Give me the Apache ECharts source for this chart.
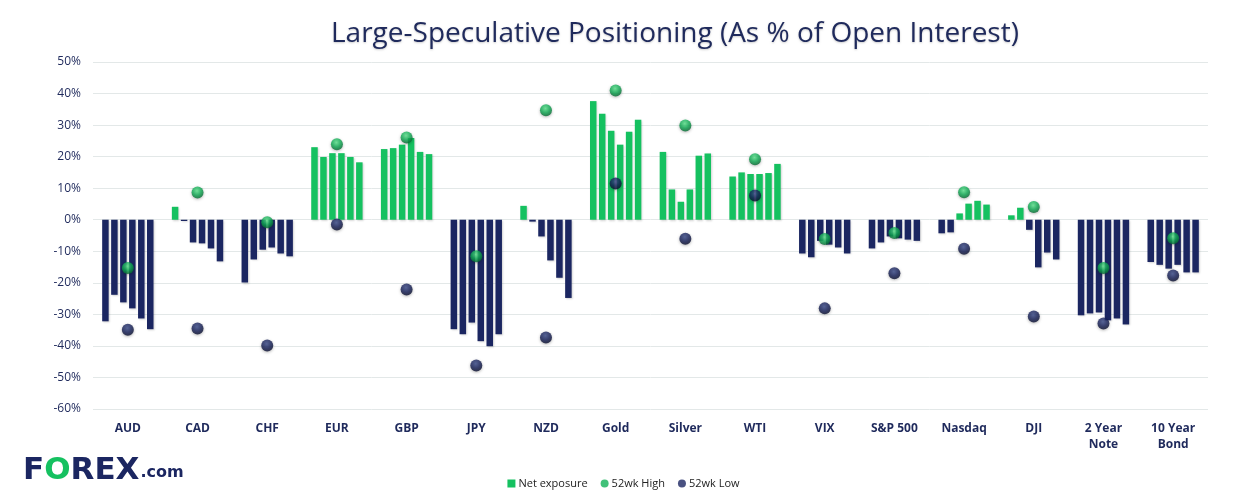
<!DOCTYPE html>
<html>
<head>
<meta charset="utf-8">
<script src="https://cdn.jsdelivr.net/npm/echarts@6/dist/echarts.min.js"></script>
<style>
html,body{margin:0;padding:0;background:#fff;}
#c{width:1247px;height:503px;}
</style>
</head>
<body>
<div id="c"></div>
<script>
const categories = ['AUD','CAD','CHF','EUR','GBP','JPY','NZD','Gold','Silver','WTI','VIX','S&P 500','Nasdaq','DJI','2 Year\nNote','10 Year\nBond'];
const week1 = [-32.2, 4.1, -19.9, 23.0, 22.4, -34.7, 4.4, 37.6, 21.5, 13.7, -10.7, -9.1, -4.3, 1.4, -30.3, -13.4];
const week2 = [-23.8, -0.4, -12.6, 19.9, 22.7, -36.3, -0.6, 33.6, 9.6, 15.0, -11.9, -7.2, -4.0, 3.8, -29.7, -14.3];
const week3 = [-26.2, -7.2, -9.5, 21.1, 23.8, -32.6, -5.3, 28.2, 5.7, 14.5, -6.7, -5.3, 2.0, -3.2, -29.4, -15.5];
const week4 = [-28.1, -7.5, -8.8, 21.1, 25.9, -38.5, -12.9, 23.8, 9.6, 14.5, -7.9, -5.9, 5.1, -15.1, -31.9, -14.3];
const week5 = [-31.3, -9.1, -10.7, 19.9, 21.5, -40.1, -18.4, 27.9, 20.3, 14.8, -8.8, -6.3, 6.0, -10.4, -31.3, -16.7];
const week6 = [-34.7, -13.2, -11.6, 18.2, 20.8, -36.3, -24.8, 31.7, 21.0, 17.7, -10.7, -6.7, 4.8, -12.6, -33.2, -16.7];
const high52 = [-15.3, 8.6, -0.8, 23.9, 26.1, -11.6, 34.7, 41.0, 29.9, 19.2, -6.1, -4.2, 8.7, 4.0, -15.3, -5.9];
const low52 = [-34.9, -34.5, -39.9, -1.5, -22.1, -46.2, -37.3, 11.5, -6.0, 7.7, -28.1, -17.0, -9.2, -30.7, -32.9, -17.7];
const yTicks = {min: -60, max: 50, interval: 10};

const GREEN = '#15c160';
const NAVY = '#1b2661';
const TEXT = '#1f2a5c';
const FONT = '"Open Sans", "Noto Sans", sans-serif';
const LOGO_FONT = '"DejaVu Sans", sans-serif';

const weeks = [week1, week2, week3, week4, week5, week6];
const barSeries = weeks.map(w => ({
  name: 'Net exposure',
  type: 'bar',
  barWidth: 6.5,
  barGap: '38%',
  color: GREEN,
  z: 2,
  itemStyle: {shadowColor: 'rgba(0,0,0,0.18)', shadowBlur: 2, shadowOffsetX: 1, shadowOffsetY: 1},
  data: w.map(v => ({value: v, itemStyle: {color: v >= 0 ? GREEN : NAVY}}))
}));

function ball(light, base, dark) {
  return new echarts.graphic.RadialGradient(0.45, 0.35, 0.65, [
    {offset: 0, color: light}, {offset: 0.55, color: base}, {offset: 1, color: dark}
  ]);
}

const chart = echarts.init(document.getElementById('c'), null, {renderer: 'canvas'});
chart.setOption({
  animation: false,
  backgroundColor: '#ffffff',
  title: {
    text: 'Large-Speculative Positioning (As % of Open Interest)',
    left: 326, top: 15,
    textStyle: {fontFamily: FONT, fontSize: 28, fontWeight: 'normal', color: TEXT,
      textShadowColor: 'rgba(0,0,0,0.2)', textShadowBlur: 2, textShadowOffsetY: 1}
  },
  legend: {
    bottom: 9, left: 'center',
    itemWidth: 8, itemHeight: 8, itemGap: 13,
    textStyle: {fontFamily: FONT, fontSize: 11, color: '#222', padding: [0, 0, 0, -2]},
    data: [
      {name: 'Net exposure', icon: 'rect', itemStyle: {color: GREEN}},
      {name: '52wk High', icon: 'circle', itemStyle: {color: '#12b257'}},
      {name: '52wk Low', icon: 'circle', itemStyle: {color: NAVY}}
    ]
  },
  grid: {left: 93, right: 39, top: 62, bottom: 94},
  xAxis: {
    type: 'category',
    data: categories,
    axisLine: {show: false},
    axisTick: {show: false},
    axisLabel: {fontFamily: FONT, fontSize: 12, fontWeight: 'bold', color: TEXT, margin: 12, lineHeight: 16, interval: 0}
  },
  yAxis: {
    type: 'value',
    min: yTicks.min, max: yTicks.max, interval: yTicks.interval,
    axisLabel: {fontFamily: FONT, fontSize: 12, color: TEXT, margin: 12, formatter: v => v + '%'},
    splitLine: {lineStyle: {color: '#e3e8e8', width: 1}},
    axisLine: {show: false}, axisTick: {show: false}
  },
  series: barSeries.concat([
    {
      name: '52wk High', type: 'scatter', symbolSize: 12, z: 5,
      itemStyle: {color: ball('#5fe890', '#10ad55', '#066a32'), shadowColor: 'rgba(0,0,0,0.35)', shadowBlur: 3, shadowOffsetY: 1},
      data: high52
    },
    {
      name: '52wk Low', type: 'scatter', symbolSize: 12, z: 5,
      itemStyle: {color: ball('#3c4d8c', '#17215a', '#080d2c'), shadowColor: 'rgba(0,0,0,0.35)', shadowBlur: 3, shadowOffsetY: 1},
      data: low52
    }
  ]),
  graphic: [
    {
      type: 'text', left: 23, top: 455,
      style: {
        text: '{n|F}{g|O}{n|REX}{s|.com}',
        rich: {
          n: {fontFamily: LOGO_FONT, fontSize: 31, fontWeight: 'bold', fill: NAVY},
          g: {fontFamily: LOGO_FONT, fontSize: 31, fontWeight: 'bold', fill: GREEN},
          s: {fontFamily: LOGO_FONT, fontSize: 16, fontWeight: 'bold', fill: NAVY, verticalAlign: 'bottom', padding: [0, 0, 5, 1]}
        }
      }
    }
  ]
});
</script>
</body>
</html>
